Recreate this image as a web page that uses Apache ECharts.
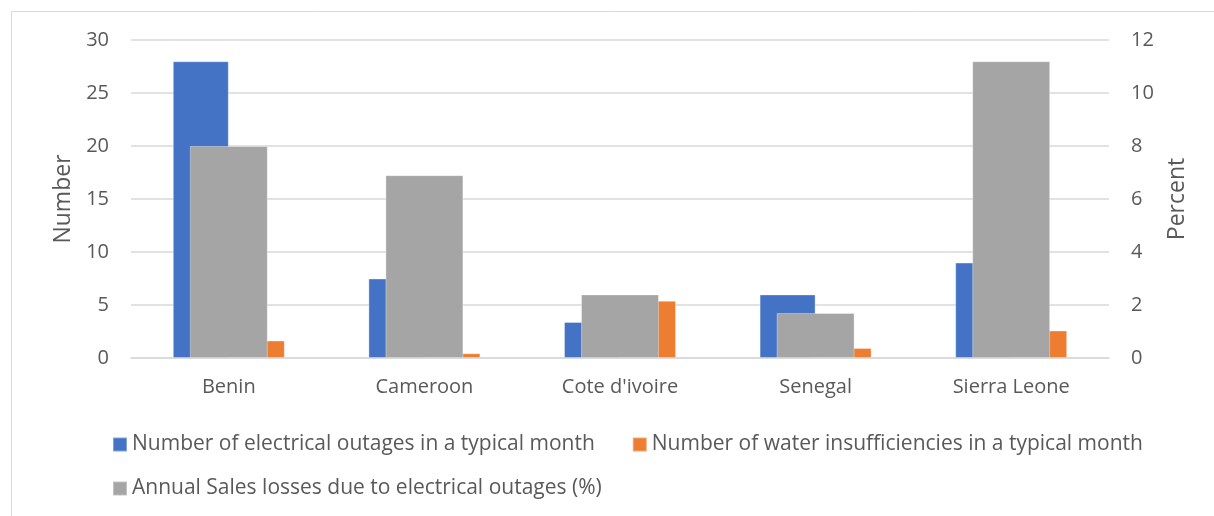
<!DOCTYPE html>
<html>
<head>
<meta charset="utf-8">
<script src="https://cdn.jsdelivr.net/npm/echarts@6/dist/echarts.min.js"></script>
<style>html,body{margin:0;padding:0;background:#fff}#c{width:1214px;height:516px}</style>
</head>
<body>
<div id="c"></div>
<script>
const categories = ["Benin", "Cameroon", "Cote d'ivoire", "Senegal", "Sierra Leone"];
const electricalOutages = [28, 7.5, 3.4, 6, 9];
const waterInsufficiencies = [1.65, 0.45, 5.4, 0.95, 2.6];
const salesLosses = [8, 6.9, 2.4, 1.7, 11.2];
const leftTicks = {min: 0, max: 30, interval: 5};
const rightTicks = {min: 0, max: 12, interval: 2};
const seriesNames = [
  "Number of electrical outages in a typical month",
  "Number of water insufficiencies in a typical month",
  "Annual Sales losses due to electrical outages (%)"
];

const FONT = 'Open Sans';
const TXT = '#595959';
const chart = echarts.init(document.getElementById('c'), null, {renderer: 'canvas'});
const legendCommon = {
  orient: 'horizontal', itemWidth: 14, itemHeight: 14, itemGap: 37, icon: 'rect',
  textStyle: {color: TXT, fontFamily: FONT, fontSize: 21}, selectedMode: false
};
chart.setOption({
  animation: false,
  textStyle: {fontFamily: FONT},
  graphic: [{type: 'rect', shape: {x: 11.5, y: 11.5, width: 1400, height: 700}, style: {fill: 'none', stroke: '#d9d9d9', lineWidth: 1}, silent: true}],
  grid: {left: 131, right: 105, top: 40, bottom: 158},
  legend: [
    Object.assign({}, legendCommon, {data: [seriesNames[0], seriesNames[1]], left: 107, top: 429}),
    Object.assign({}, legendCommon, {data: [seriesNames[2]], left: 107, top: 473})
  ],
  xAxis: [
    {type: 'category', data: categories,
     axisLine: {lineStyle: {color: '#d9d9d9', width: 1.5}}, axisTick: {show: false},
     axisLabel: {color: TXT, fontFamily: FONT, fontSize: 20, margin: 19}},
    {type: 'category', data: categories, show: false}
  ],
  yAxis: [
    {type: 'value', min: leftTicks.min, max: leftTicks.max, interval: leftTicks.interval,
     name: 'Number', nameLocation: 'middle', nameGap: 54, nameRotate: 90,
     nameTextStyle: {color: TXT, fontFamily: FONT, fontSize: 23},
     axisLine: {show: false}, axisTick: {show: false},
     axisLabel: {color: TXT, fontFamily: FONT, fontSize: 20, margin: 22},
     splitLine: {lineStyle: {color: '#d9d9d9', width: 1.5}}},
    {type: 'value', min: rightTicks.min, max: rightTicks.max, interval: rightTicks.interval,
     name: 'Percent', nameLocation: 'middle', nameGap: 57, nameRotate: 90,
     nameTextStyle: {color: TXT, fontFamily: FONT, fontSize: 23},
     axisLine: {show: false}, axisTick: {show: false},
     axisLabel: {color: TXT, fontFamily: FONT, fontSize: 20, margin: 22},
     splitLine: {show: false}}
  ],
  series: [
    {name: seriesNames[0], type: 'bar', xAxisIndex: 0, yAxisIndex: 0, data: electricalOutages,
     barWidth: 56, barGap: '0%', itemStyle: {color: '#4472C4', borderColor: 'rgba(255,255,255,0.35)', borderWidth: 1}},
    {name: seriesNames[1], type: 'bar', xAxisIndex: 0, yAxisIndex: 0, data: waterInsufficiencies,
     barWidth: 56, barGap: '0%', itemStyle: {color: '#ED7D31', borderColor: 'rgba(255,255,255,0.35)', borderWidth: 1}},
    {name: seriesNames[2], type: 'bar', xAxisIndex: 1, yAxisIndex: 1, data: salesLosses,
     barWidth: 78, itemStyle: {color: '#A5A5A5', borderColor: 'rgba(255,255,255,0.35)', borderWidth: 1}}
  ]
});
</script>
</body>
</html>
